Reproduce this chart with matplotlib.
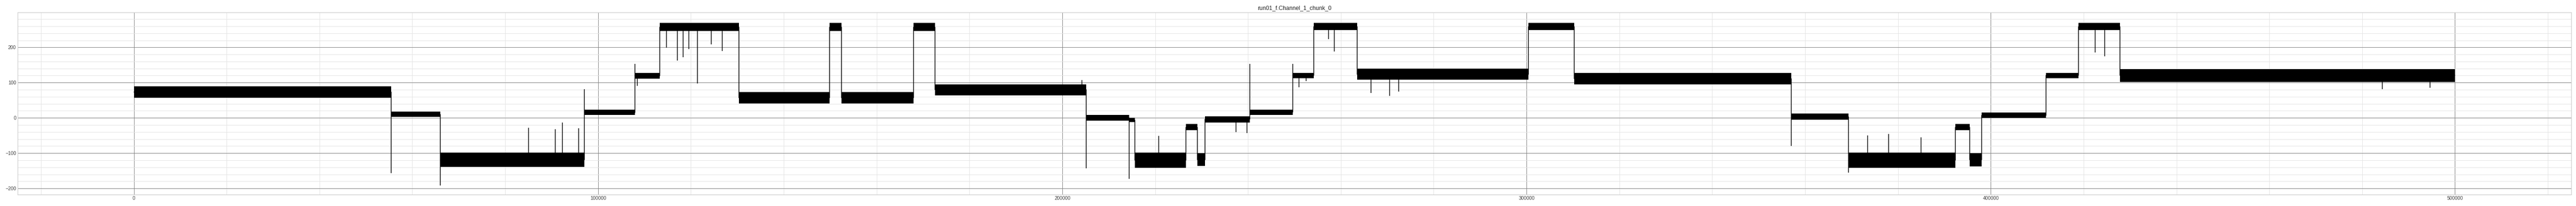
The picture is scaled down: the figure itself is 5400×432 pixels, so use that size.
import numpy as np
import matplotlib.pyplot as plt
from matplotlib.ticker import MultipleLocator

plt.rcParams['font.family'] = ['Liberation Sans', 'DejaVu Sans']

title = 'run01_f.Channel_1_chunk_0'

# signal levels: start / end sample, lower and upper edge of the noise band
seg_start = [0, 55400, 66000, 97000, 107900, 113250, 130320, 149900, 152400, 168000,
             172600, 205150, 214400, 215600, 226600, 229070, 230720, 240390, 249600, 254130,
             263550, 300360, 310270, 357000, 369380, 392400, 395500, 398000, 411850, 418930,
             427780]
seg_end = seg_start[1:] + [500000]
seg_low = [57, 3, -139, 8, 111, 246, 41, 246, 41, 246,
           64, -8, -12, -141, -35, -136, -13, 8, 113, 249,
           108, 249, 95, -5, -141, -35, -138, 0, 112, 249,
           102]
seg_high = [90, 18, -98, 23, 128, 269, 73, 269, 73, 269,
            95, 8, 0, -98, -17, -100, 5, 24, 128, 269,
            140, 269, 128, 12, -98, -17, -100, 15, 128, 269,
            138]

# isolated spikes (sample, tip value)
spike_x = [55400, 66000, 85000, 90800, 92300, 95830, 97000, 107900, 108500, 114750,
           117100, 118300, 119580, 121430, 124380, 126740, 204250, 205150, 214400, 220800,
           237440, 239730, 240390, 249600, 251000, 252500, 257350, 258580, 266500, 270500,
           272500, 357000, 369380, 373500, 378000, 385000, 422500, 424500, 484300, 494600]
spike_y = [-156, -192, -28, -32, -13, -30, 82, 153, 91, 199,
           162, 172, 195, 98, 209, 189, 107, -143, -172, -51,
           -40, -43, 153, 153, 87, 104, 224, 188, 70, 62,
           75, -80, -155, -50, -45, -55, 185, 175, 82, 86]

fig = plt.figure(figsize=(75, 6), dpi=72)
ax = fig.add_axes([0.0069, 0.0556, 0.9912, 0.8834])

# step line through the band centres, so the jumps show
xs, ys = [], []
for s, e, lo, hi in zip(seg_start, seg_end, seg_low, seg_high):
    m = (lo + hi) / 2
    xs += [s, e]
    ys += [m, m]
    ax.fill_between([s, e], [lo, lo], [hi, hi], color='black', lw=0)
ax.plot(xs, ys, color='black', lw=1.5)

# spikes go from the level they sit on to their tip
base = []
for sx in spike_x:
    i = np.searchsorted(seg_start, sx, side='right') - 1
    base.append((seg_low[i] + seg_high[i]) / 2)
ax.vlines(spike_x, base, spike_y, color='black', lw=1.5)

ax.set_xlim(-25000, 525000)
ax.set_ylim(-217.2, 298.6)
ax.xaxis.set_major_locator(MultipleLocator(100000))
ax.xaxis.set_minor_locator(MultipleLocator(20000))
ax.yaxis.set_major_locator(MultipleLocator(100))
ax.yaxis.set_minor_locator(MultipleLocator(20))
ax.grid(which='major', color='#808080', lw=1)
ax.grid(which='minor', color='#e3e3e3', lw=1)
ax.set_axisbelow(True)
ax.tick_params(which='both', length=0, labelsize=10, colors='#404040')
for sp in ax.spines.values():
    sp.set_color('#cccccc')
    sp.set_linewidth(1.25)
ax.set_title(title, fontsize=12, color='#262626')

fig.savefig('out.png', dpi=72)
